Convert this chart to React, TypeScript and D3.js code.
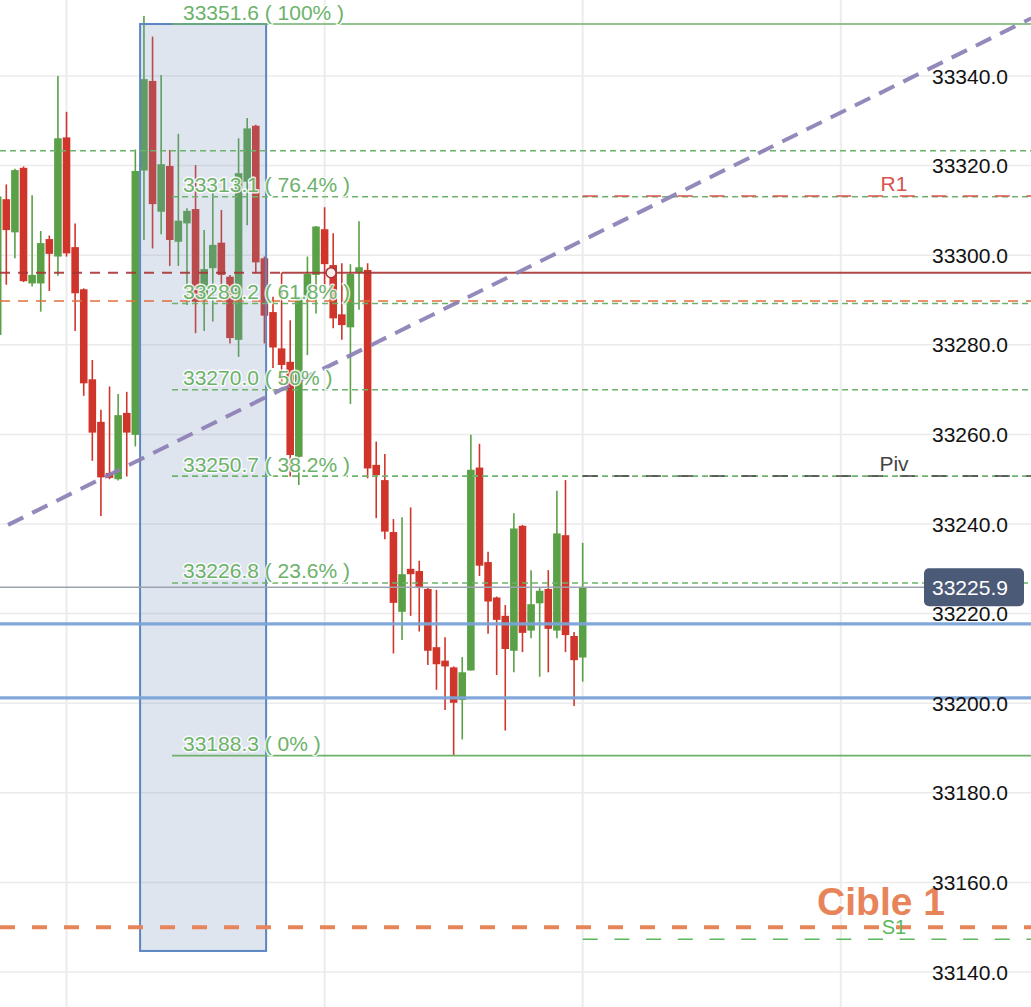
import React from 'react';
import * as d3 from 'd3';

const W = 1031;
const H = 1007;

// OHLC series, one entry per bar
const opens = [
  33282.2, 33312.5, 33305.1, 33319.5, 33293.7, 33293.7, 33303.6, 33299.7, 33326.3, 33301.8,
  33292.4, 33272.3, 33262.8, 33251.4, 33250.0, 33264.8, 33259.9, 33318.9, 33338.9, 33309.7,
  33319.9, 33303.0, 33307.1, 33310.3, 33290.0, 33297.1, 33302.8, 33295.2, 33281.1, 33316.4,
  33328.9, 33299.3, 33287.3, 33279.2, 33276.2, 33255.0, 33290.7, 33295.6, 33305.8, 33297.8,
  33286.8, 33283.9, 33296.1, 33296.7, 33253.2, 33249.8, 33238.2, 33220.4, 33230.0, 33229.5,
  33225.5, 33212.5, 33209.5, 33208.0, 33200.7, 33207.3, 33252.6, 33231.5, 33223.6, 33219.5,
  33211.7, 33239.6, 33216.2, 33222.3, 33225.5, 33216.2, 33237.5, 33215.0, 33210.2,
];
const highs = [
  33314.0, 33315.8, 33319.3, 33319.8, 33313.4, 33305.4, 33304.4, 33340.0, 33332.0, 33307.1,
  33292.6, 33276.6, 33265.5, 33270.7, 33269.0, 33269.5, 33323.6, 33353.4, 33348.8, 33340.2,
  33323.5, 33327.1, 33310.5, 33320.1, 33305.6, 33314.0, 33310.1, 33295.6, 33326.1, 33330.6,
  33329.1, 33299.7, 33290.7, 33296.1, 33285.5, 33290.9, 33299.7, 33306.5, 33310.7, 33304.9,
  33298.2, 33298.0, 33307.6, 33298.2, 33258.4, 33255.6, 33241.1, 33241.5, 33243.7, 33231.8,
  33225.8, 33225.3, 33214.7, 33208.2, 33210.3, 33259.9, 33257.9, 33233.8, 33223.8, 33221.9,
  33242.4, 33239.8, 33229.7, 33225.7, 33229.7, 33247.4, 33249.8, 33215.9, 33235.8,
];
const lows = [
  33282.0, 33293.4, 33299.3, 33294.0, 33293.0, 33287.4, 33292.0, 33295.4, 33299.7, 33283.1,
  33268.6, 33254.1, 33241.8, 33250.0, 33249.7, 33250.6, 33257.3, 33303.4, 33301.5, 33304.7,
  33297.6, 33297.6, 33288.9, 33282.6, 33283.1, 33285.2, 33293.0, 33280.3, 33277.3, 33306.7,
  33296.0, 33280.3, 33274.8, 33271.0, 33250.6, 33248.7, 33277.7, 33287.0, 33291.1, 33283.7,
  33281.1, 33266.8, 33287.8, 33250.2, 33241.3, 33236.6, 33211.1, 33214.1, 33219.5, 33216.0,
  33208.5, 33203.0, 33198.5, 33188.3, 33191.9, 33207.3, 33228.4, 33215.5, 33206.3, 33193.9,
  33206.9, 33211.4, 33214.5, 33205.9, 33206.9, 33214.5, 33211.4, 33199.4, 33204.8,
];
const closes = [
  33313.1, 33305.6, 33319.0, 33294.2, 33295.6, 33302.7, 33300.3, 33326.1, 33300.4, 33291.5,
  33271.4, 33260.4, 33250.4, 33250.3, 33264.3, 33260.4, 33318.8, 33339.3, 33311.4, 33320.3,
  33303.4, 33307.7, 33309.9, 33289.6, 33296.9, 33302.3, 33295.6, 33281.5, 33318.3, 33328.3,
  33298.4, 33286.5, 33279.4, 33275.5, 33255.4, 33290.7, 33295.8, 33306.4, 33298.0, 33285.9,
  33284.4, 33295.8, 33297.3, 33252.4, 33250.9, 33238.3, 33222.4, 33228.8, 33228.8, 33225.7,
  33211.7, 33208.7, 33208.2, 33200.1, 33206.9, 33252.1, 33230.7, 33222.7, 33218.6, 33212.1,
  33239.0, 33215.7, 33222.1, 33225.1, 33216.6, 33237.9, 33215.2, 33209.6, 33225.9,
];

// Price axis
const priceTicks = [33140, 33160, 33180, 33200, 33220, 33240, 33260, 33280, 33300, 33320, 33340];
const timeGridIndices = [8, 38, 68, 98];
const lastPrice = 33225.9;

// Fibonacci retracement
const fibHigh = 33351.6;
const fibLow = 33188.3;
const fibRatios = [1, 0.764, 0.618, 0.5, 0.382, 0.236, 0];
const fibPctLabels = ['100%', '76.4%', '61.8%', '50%', '38.2%', '23.6%', '0%'];
const fibStartIndex = 20.27;
const fibBoxIndices = [16.55, 31.2];
const fibBoxBottom = 33144.7;

// Other horizontal levels
const upperDashedLevel = 33323.3;
const resistanceLevel = 33296.1;
const resistanceSplitIndex = 33.05;
const markerIndex = 38.75;
const orangeThinLevel = 33289.8;
const blueLevels = [33217.7, 33201.2];
const pivotNames = ['R1', 'Piv', 'S1'];
const pivotPrices = [33313.2, 33250.7, 33147.3];
const pivotColors = ['#d9534f', '#444444', '#5cb85c'];
const pivotStartIndex = 68;
const targetPrice = 33150.0;
const targetLabel = 'Cible 1';

// Trend line anchors (bar index, price)
const trendIdx = [1.2, 120.15];
const trendPrice = [33239.8, 33352.9];

const GREEN = '#5aa047';
const RED = '#d0352b';
const FIB_GREEN = '#6cb26a';
const FONT = '"Liberation Sans", Arial, Helvetica, sans-serif';

export default function App() {
  const x = d3.scaleLinear().domain([0, 68]).range([-2.3, 582.7]);
  const y = d3.scaleLinear().domain([33140, 33340]).range([972, 76]);
  const step = x(1) - x(0);
  const bodyW = step * 0.88;
  const fmt = d3.format('.1f');

  const bars = d3.range(opens.length).map((i) => ({
    i,
    o: opens[i],
    h: highs[i],
    l: lows[i],
    c: closes[i],
  }));

  const fibLevels = fibRatios.map((r, k) => {
    const v = fibLow + r * (fibHigh - fibLow);
    // half-up rounding for the displayed level
    const shown = Math.round(v * 10 + 1e-6) / 10;
    return { v, label: `${fmt(shown)} ( ${fibPctLabels[k]} )`, solid: r === 0 || r === 1 };
  });

  const trendLine = d3.line<[number, number]>()
    .x((d) => x(d[0]))
    .y((d) => y(d[1]));

  const halo = {
    stroke: 'white',
    strokeWidth: 3,
    strokeOpacity: 0.85,
    paintOrder: 'stroke' as const,
    strokeLinejoin: 'round' as const,
  };

  return (
    <svg
      width={W}
      height={H}
      style={{ position: 'absolute', left: 0, top: 0, background: '#fff' }}
      fontFamily={FONT}
    >
      <rect x={0} y={0} width={W} height={H} fill="#fff" />

      {/* grid */}
      <g>
        {priceTicks.map((t) => (
          <line key={t} x1={0} x2={W} y1={y(t)} y2={y(t)} stroke="#ebebeb" strokeWidth={1.5} />
        ))}
        {timeGridIndices.map((i) => (
          <line key={i} x1={x(i)} x2={x(i)} y1={0} y2={H} stroke="#ececec" strokeWidth={2} />
        ))}
      </g>

      {/* candles */}
      <g>
        {bars.map((b) => {
          const up = b.c >= b.o;
          const col = up ? GREEN : RED;
          const top = y(Math.max(b.o, b.c));
          const bot = y(Math.min(b.o, b.c));
          return (
            <g key={b.i}>
              <line x1={x(b.i)} x2={x(b.i)} y1={y(b.h)} y2={y(b.l)} stroke={col} strokeWidth={1.6} />
              <rect
                x={x(b.i) - bodyW / 2}
                y={top}
                width={bodyW}
                height={Math.max(1.5, bot - top)}
                fill={col}
              />
            </g>
          );
        })}
      </g>

      {/* fibonacci box */}
      <rect
        x={x(fibBoxIndices[0])}
        y={y(fibHigh)}
        width={x(fibBoxIndices[1]) - x(fibBoxIndices[0])}
        height={y(fibBoxBottom) - y(fibHigh)}
        fill="rgba(115,148,190,0.24)"
        stroke="#5b86c2"
        strokeWidth={2}
      />

      {/* horizontal levels */}
      <line x1={0} x2={W} y1={y(upperDashedLevel)} y2={y(upperDashedLevel)}
        stroke={FIB_GREEN} strokeWidth={1.5} strokeDasharray="6,4" />
      <line x1={0} x2={x(resistanceSplitIndex)} y1={y(resistanceLevel)} y2={y(resistanceLevel)}
        stroke="#a93434" strokeWidth={2} strokeDasharray="10,8" opacity={0.9} />
      <line x1={x(resistanceSplitIndex)} x2={W} y1={y(resistanceLevel)} y2={y(resistanceLevel)}
        stroke="#a93434" strokeWidth={2} opacity={0.9} />
      <line x1={0} x2={W} y1={y(orangeThinLevel)} y2={y(orangeThinLevel)}
        stroke="#df6e3e" strokeWidth={1.5} strokeDasharray="10,8" />

      {fibLevels.map((f, k) => (
        <line key={k} x1={x(fibStartIndex)} x2={W} y1={y(f.v)} y2={y(f.v)}
          stroke={FIB_GREEN} strokeWidth={1.6}
          strokeDasharray={f.solid ? undefined : '6,4'} />
      ))}

      {pivotPrices.map((p, k) => (
        <line key={k} x1={x(pivotStartIndex)} x2={W} y1={y(p)} y2={y(p)}
          stroke={pivotColors[k]} strokeWidth={1.6} strokeDasharray="15,16.7" />
      ))}

      {blueLevels.map((p) => (
        <line key={p} x1={0} x2={W} y1={y(p)} y2={y(p)}
          stroke="#7ba4d8" strokeWidth={3.2} opacity={0.95} />
      ))}

      <line x1={0} x2={924} y1={y(lastPrice)} y2={y(lastPrice)}
        stroke="#9ba2b0" strokeWidth={1.5} />

      <line x1={0} x2={W} y1={y(targetPrice)} y2={y(targetPrice)}
        stroke="#e8845a" strokeWidth={4} strokeDasharray="15,17" />

      {/* trend line */}
      <path
        d={trendLine([[trendIdx[0], trendPrice[0]], [trendIdx[1], trendPrice[1]]]) || ''}
        stroke="#8c7fb5"
        strokeWidth={4}
        strokeDasharray="17,10"
        fill="none"
        opacity={0.92}
      />

      {/* marker on resistance */}
      <circle cx={x(markerIndex)} cy={y(resistanceLevel)} r={5}
        fill="#fbeeee" stroke="#a93434" strokeWidth={1.5} />

      {/* fib labels */}
      {fibLevels.map((f, k) => (
        <text key={k} x={183} y={y(f.v) - 4.5} fontSize={21} fill={FIB_GREEN} {...halo}>
          {f.label}
        </text>
      ))}

      {/* pivot labels */}
      {pivotPrices.map((p, k) => (
        <text key={k} x={894} y={y(p) - 5.5} fontSize={k === 2 ? 20 : 21}
          textAnchor="middle" fill={pivotColors[k]}>
          {pivotNames[k]}
        </text>
      ))}

      {/* target label */}
      <text x={881} y={y(targetPrice) - 12} fontSize={39} fontWeight="bold"
        textAnchor="middle" fill="#e8845a" {...halo}>
        {targetLabel}
      </text>

      {/* price axis labels */}
      {priceTicks.map((t) => (
        <text key={t} x={932} y={y(t)} dy="0.36em" fontSize={21} fill="#111">
          {fmt(t)}
        </text>
      ))}

      {/* last price tag */}
      <rect x={924} y={y(lastPrice) - 19} width={100} height={38} rx={5} fill="#4b5a77" />
      <text x={932} y={y(lastPrice)} dy="0.36em" fontSize={21} fill="#fff">
        {fmt(lastPrice)}
      </text>
    </svg>
  );
}
